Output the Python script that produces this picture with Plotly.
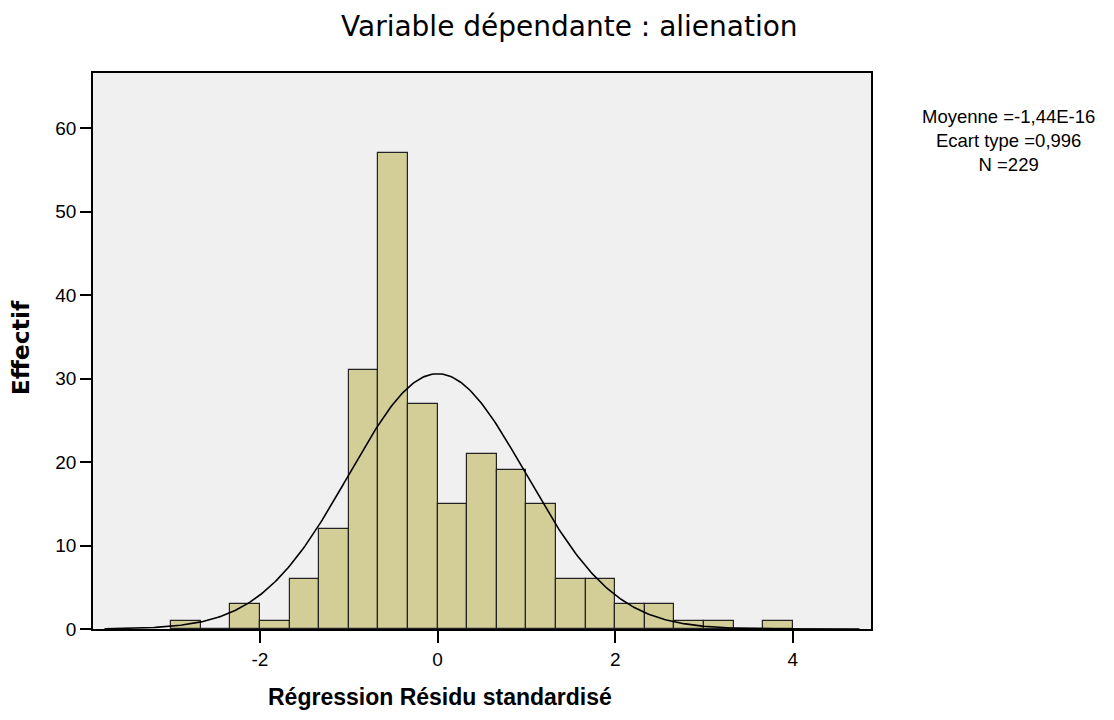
import numpy as np
import plotly.graph_objects as go

# Histogram data (bin left edges, width 1/3)
bin_left = [-3.0, -2.6667, -2.3333, -2.0, -1.6667, -1.3333, -1.0, -0.6667, -0.3333,
            0.0, 0.3333, 0.6667, 1.0, 1.3333, 1.6667, 2.0, 2.3333, 2.6667, 3.0, 3.3333, 3.6667]
counts = [1, 0, 3, 1, 6, 12, 31, 57, 27, 15, 21, 19, 15, 6, 6, 3, 3, 1, 1, 0, 1]
bin_width = 1/3

# Summary statistics shown on chart
mean_val = -1.44e-16
sd_val = 0.996
n_val = 229
stats_lines = ["Moyenne =-1,44E-16", "Ecart type =0,996", "N =229"]

x_ticks = [-2, 0, 2, 4]
x_tick_labels = ["-2", "0", "2", "4"]
y_ticks = [0, 10, 20, 30, 40, 50, 60]

centers = [b + bin_width/2 for b in bin_left]

xs = np.linspace(-3.75, 4.75, 400)
ys = n_val * bin_width * np.exp(-0.5*((xs-mean_val)/sd_val)**2) / (sd_val*np.sqrt(2*np.pi))

fig = go.Figure()
fig.add_trace(go.Bar(x=centers, y=counts, width=bin_width,
                     marker=dict(color="rgb(211,206,151)", line=dict(color="#222222", width=1.2)),
                     showlegend=False))
fig.add_trace(go.Scatter(x=xs, y=ys, mode="lines", line=dict(color="black", width=1.6),
                         showlegend=False))

arial = "Liberation Sans, Arial, sans-serif"
wide = "DejaVu Sans, Verdana, sans-serif"
fig.update_layout(
    width=1114, height=720,
    margin=dict(l=93, r=243, t=73, b=91),
    paper_bgcolor="white", plot_bgcolor="#f0f0f0",
    bargap=0,
    font=dict(family=arial, color="black", size=19),
)
fig.update_xaxes(range=[-3.88, 4.88], tickvals=x_ticks, ticktext=x_tick_labels,
                 ticks="outside", ticklen=12,
                 tickcolor="black", tickwidth=1.5, showgrid=False, zeroline=False,
                 showline=True, linecolor="black", linewidth=1.8, mirror=True,
                 tickfont=dict(size=19, family=arial))
fig.update_yaxes(range=[0, 66.6], tickvals=y_ticks, ticks="outside", ticklen=11,
                 tickcolor="black", tickwidth=1.5, showgrid=False, zeroline=False,
                 showline=True, linecolor="black", linewidth=1.8, mirror=True,
                 tickfont=dict(size=19, family=arial))

fig.add_annotation(text="Variable dépendante : alienation", xref="paper", yref="paper",
                   x=0.612, y=1.084, xanchor="center", yanchor="middle", showarrow=False,
                   font=dict(size=28, family=wide, color="black"))
fig.add_annotation(text="<b>Régression Résidu standardisé</b>", xref="paper", yref="paper",
                   x=0.446, y=-0.122, xanchor="center", yanchor="middle", showarrow=False,
                   font=dict(size=23, family=arial, color="black"))
fig.add_annotation(text="<b>Effectif</b>", xref="paper", yref="paper",
                   x=-0.0925, y=0.505, xanchor="center", yanchor="middle", showarrow=False,
                   textangle=-90, font=dict(size=23.5, family=wide, color="black"))
fig.add_annotation(text="<br>".join(stats_lines), xref="paper", yref="paper",
                   x=1.177, y=0.879, xanchor="center", yanchor="middle", showarrow=False,
                   align="center", font=dict(size=18.5, family=arial, color="black"))

fig.write_html("out.html")
